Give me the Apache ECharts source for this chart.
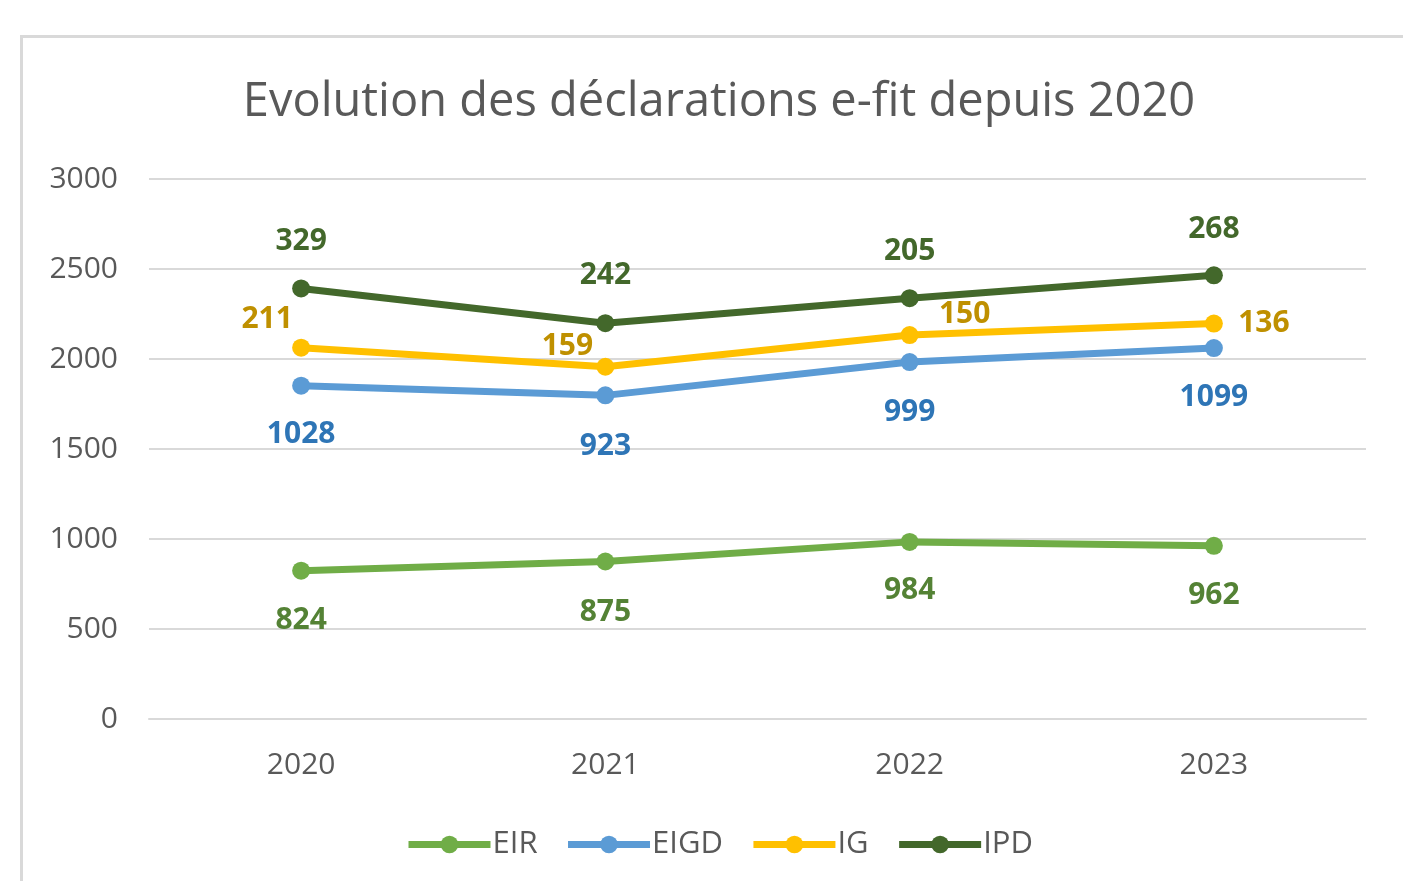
<!DOCTYPE html>
<html>
<head>
<meta charset="utf-8">
<script src="https://cdn.jsdelivr.net/npm/echarts@6/dist/echarts.min.js"></script>
<style>
  html, body { margin: 0; padding: 0; background: #fff; }
  #frame { position: absolute; left: 20px; top: 35px; width: 1400px; height: 860px; border: 3px solid #d9d9d9; box-sizing: border-box; }
  #container { position: absolute; left: 0; top: 0; width: 1403px; height: 881px; }
</style>
</head>
<body>
<div id="frame"></div>
<div id="container"></div>
<script type="text/javascript">
// données (valeurs empilées)
var years = ['2020', '2021', '2022', '2023'];
var eir  = [824, 875, 984, 962];
var eigd = [1028, 923, 999, 1099];
var ig   = [211, 159, 150, 136];
var ipd  = [329, 242, 205, 268];
var yTicks = [0, 500, 1000, 1500, 2000, 2500, 3000];

var myChart = echarts.init(document.getElementById('container'));

var font = '"Open Sans", "Noto Sans", sans-serif';

function serie(name, values, color, labelColor, offsets) {
    return {
        name: name,
        type: 'line',
        stack: 'total',
        data: values.map(function (v, i) {
            return {
                value: v,
                label: { offset: offsets[i] }
            };
        }),
        symbol: 'circle',
        symbolSize: 18,
        lineStyle: { width: 7, color: color },
        itemStyle: { color: color },
        label: {
            show: true,
            position: 'inside',
            formatter: function (p) { return values[p.dataIndex]; },
            color: labelColor,
            fontSize: 30,
            fontWeight: 'bold',
            fontFamily: font
        },
        emphasis: { disabled: true },
        z: 3
    };
}

var option = {
    animation: false,
    title: {
        text: 'Evolution des déclarations e-fit depuis 2020',
        left: 714,
        textAlign: 'center',
        top: 74,
        textStyle: { color: '#595959', fontSize: 47, fontWeight: 'normal', fontFamily: font }
    },
    legend: {
        bottom: 16,
        left: 400,
        itemWidth: 82,
        itemHeight: 22,
        itemGap: 27,
        lineStyle: { width: 7 },
        textStyle: { color: '#595959', fontSize: 31, fontFamily: font, padding: [0, 0, 0, -3] },
        data: ['EIR', 'EIGD', 'IG', 'IPD']
    },
    grid: { left: 149, right: 37, top: 179, bottom: 162 },
    xAxis: {
        type: 'category',
        data: years,
        boundaryGap: true,
        axisTick: { show: false },
        axisLine: { lineStyle: { color: '#d9d9d9', width: 2 } },
        axisLabel: { color: '#595959', fontSize: 30, fontFamily: font, margin: 31 }
    },
    yAxis: {
        type: 'value',
        min: yTicks[0],
        max: yTicks[yTicks.length - 1],
        interval: yTicks[1] - yTicks[0],
        axisLine: { show: false },
        axisTick: { show: false },
        splitLine: { lineStyle: { color: '#d9d9d9', width: 2 } },
        axisLabel: { color: '#595959', fontSize: 30, fontFamily: font, margin: 31, formatter: function (v) { return String(v); } }
    },
    series: [
        serie('EIR', eir, '#70ad47', '#548235', [[0, 50], [0, 51], [0, 49], [0, 50]]),
        serie('EIGD', eigd, '#5b9bd5', '#2e75b6', [[0, 49], [0, 51], [0, 50], [0, 49]]),
        serie('IG', ig, '#ffc000', '#bf9000', [[-34, -28], [-38, -20], [55, -21], [50, 0]]),
        serie('IPD', ipd, '#43682b', '#43682b', [[0, -47], [0, -48], [0, -47], [0, -46]])
    ]
};

myChart.setOption(option);
</script>
</body>
</html>
